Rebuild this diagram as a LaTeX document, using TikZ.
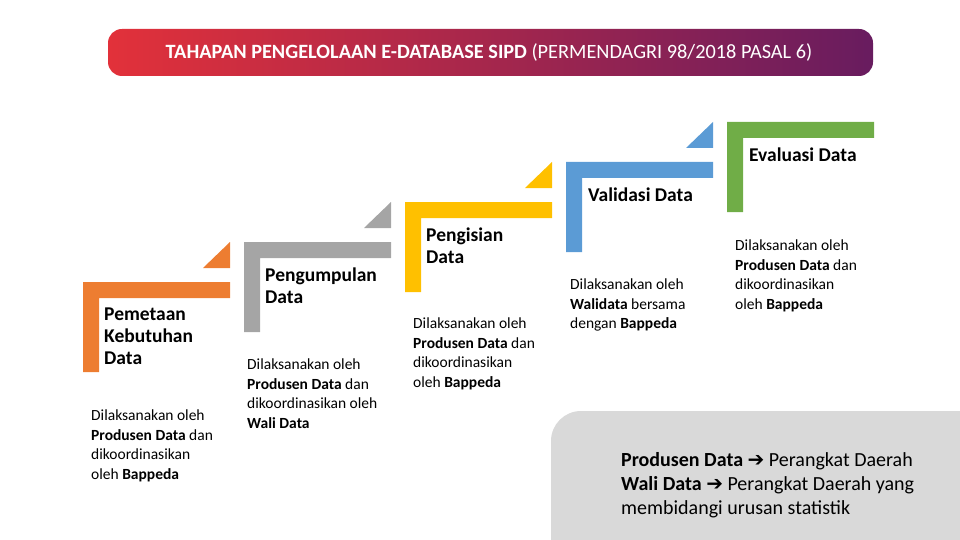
\documentclass[tikz,border=0pt]{standalone}
\usepackage{fontspec}
\setmainfont{Carlito}
\newfontfamily\arrowfont{DejaVu Sans}
\usepackage{tikz}

\definecolor{bannerRed}{HTML}{E2313A}
\definecolor{bannerPurple}{HTML}{681C5F}
\definecolor{stepOrange}{HTML}{ED7D31}
\definecolor{stepGray}{HTML}{A5A5A5}
\definecolor{stepYellow}{HTML}{FFC000}
\definecolor{stepBlue}{HTML}{5B9BD5}
\definecolor{stepGreen}{HTML}{70AD47}
\definecolor{noteGray}{HTML}{D9D9D9}

\begin{document}
\begin{tikzpicture}[x=1pt, y=-1pt,
    steptitle/.style={anchor=north west, inner sep=0, align=left, font=\fontsize{19.5}{22}\selectfont\bfseries},
    stepnote/.style={anchor=north west, inner sep=0, align=left, font=\fontsize{15.5}{19.5}\selectfont}]
    \useasboundingbox (0,0) rectangle (960,540);

    % Title banner
    \shade[left color=bannerRed, right color=bannerPurple, rounded corners=14pt] (108,29) rectangle (873,76);
    \node[text=white, font=\fontsize{20.3}{24}\selectfont] (banner) at (489,52.5)
        {\textbf{TAHAPAN PENGELOLAAN E-DATABASE SIPD} (PERMENDAGRI 98/2018 PASAL 6)};

    % Steps
    \foreach \px/\py/\col in {83/282/stepOrange, 244/242/stepGray, 405/202/stepYellow, 566/162/stepBlue, 727/122/stepGreen}
        \fill[\col] (\px,\py) -- ++(147,0) -- ++(0,16) -- ++(-131,0) -- ++(0,74) -- ++(-16,0) -- cycle;
    \foreach \px/\py/\col in {83/282/stepOrange, 244/242/stepGray, 405/202/stepYellow, 566/162/stepBlue}
        \fill[\col] (\px+120,\py-14) -- (\px+147,\py-14) -- (\px+147,\py-40) -- cycle;

    % Step titles
    \node[steptitle] (pemetaan) at (104,308) {Pemetaan\\Kebutuhan\\Data};
    \node[steptitle] (pengumpulan) at (265,268) {Pengumpulan\\Data};
    \node[steptitle] (pengisian) at (426,228) {Pengisian\\Data};
    \node[steptitle] (validasi) at (588,188) {Validasi Data};
    \node[steptitle] (evaluasi) at (749,148) {Evaluasi Data};

    % Step notes
    \node[stepnote] (notePemetaan) at (91,410) {Dilaksanakan oleh\\\textbf{Produsen Data} dan\\dikoordinasikan\\oleh \textbf{Bappeda}};
    \node[stepnote] (notePengumpulan) at (247,359) {Dilaksanakan oleh\\\textbf{Produsen Data} dan\\dikoordinasikan oleh\\\textbf{Wali Data}};
    \node[stepnote] (notePengisian) at (413,318) {Dilaksanakan oleh\\\textbf{Produsen Data} dan\\dikoordinasikan\\oleh \textbf{Bappeda}};
    \node[stepnote] (noteValidasi) at (570,279) {Dilaksanakan oleh\\\textbf{Walidata} bersama\\dengan \textbf{Bappeda}};
    \node[stepnote] (noteEvaluasi) at (735,240) {Dilaksanakan oleh\\\textbf{Produsen Data} dan\\dikoordinasikan\\oleh \textbf{Bappeda}};

    % Legend box
    \fill[noteGray, rounded corners=30pt] (551,580) -- (551,411) -- (1010,411) -- (1010,580) -- cycle;
    \node[anchor=north west, inner sep=0, align=left, font=\fontsize{20}{24}\selectfont] (legend) at (621,452)
        {\textbf{Produsen Data {\arrowfont ➔}} Perangkat Daerah\\
         \textbf{Wali Data {\arrowfont ➔}} Perangkat Daerah yang\\
         membidangi urusan statistik};
\end{tikzpicture}
\end{document}
